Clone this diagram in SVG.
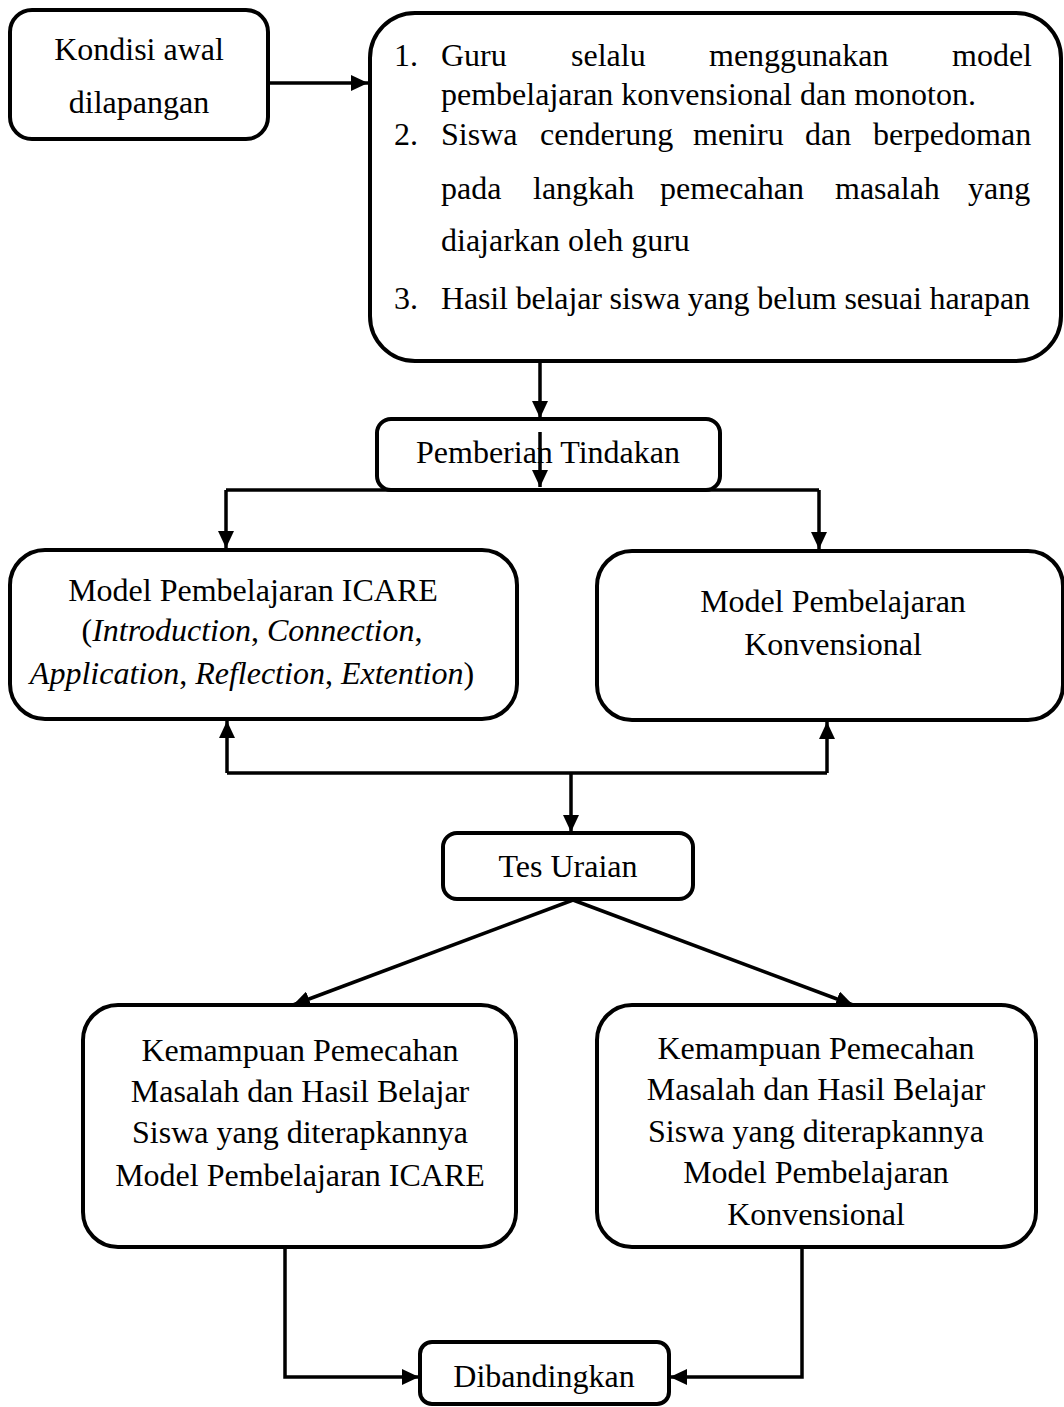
<svg xmlns="http://www.w3.org/2000/svg" width="1064" height="1407" viewBox="0 0 1064 1407">
<style>
.box{fill:#fff;stroke:#000;stroke-width:4}
.ln{fill:none;stroke:#000;stroke-width:3.5}
text{font-family:"Liberation Serif","Times New Roman",serif;font-size:32px;fill:#000}
.c{text-anchor:middle}
.i{font-style:italic}
</style>
<defs>
<marker id="ah" markerUnits="userSpaceOnUse" markerWidth="18" markerHeight="16" refX="17" refY="8" orient="auto" viewBox="0 0 18 16">
<path d="M0,0 L17,8 L0,16 z" fill="#000"/>
</marker>
</defs>
<rect width="1064" height="1407" fill="#fff"/>
<g id="connectors">
<path class="ln" d="M268,83 H368" marker-end="url(#ah)"/>
<path class="ln" d="M540,361 V418" marker-end="url(#ah)"/>
<path class="ln" d="M226,490 H819"/>
<path class="ln" d="M226,490 V548" marker-end="url(#ah)"/>
<path class="ln" d="M819,490 V549" marker-end="url(#ah)"/>
<path class="ln" d="M227,773 H827"/>
<path class="ln" d="M227,773 V721" marker-end="url(#ah)"/>
<path class="ln" d="M827,773 V722" marker-end="url(#ah)"/>
<path class="ln" d="M571,773 V832" marker-end="url(#ah)"/>
<path class="ln" d="M573,900 L293,1005" marker-end="url(#ah)"/>
<path class="ln" d="M573,900 L853,1005" marker-end="url(#ah)"/>
<path class="ln" d="M285,1247 V1377 H419" marker-end="url(#ah)"/>
<path class="ln" d="M802,1247 V1377 H670" marker-end="url(#ah)"/>
</g>
<g id="kondisi">
<rect class="box" x="10" y="10" width="258" height="129" rx="22"/>
<text class="c" x="139" y="60">Kondisi awal</text>
<text class="c" x="139" y="113">dilapangan</text>
</g>
<g id="masalah">
<rect class="box" x="370" y="13" width="691" height="348" rx="45"/>
<text x="394" y="66">1.</text>
<text x="441" y="66">Guru</text>
<text x="571" y="66">selalu</text>
<text x="709" y="66">menggunakan</text>
<text x="952" y="66">model</text>
<text x="441" y="105">pembelajaran konvensional dan monoton.</text>
<text x="394" y="145">2.</text>
<text x="441" y="145">Siswa</text>
<text x="540" y="145">cenderung</text>
<text x="693" y="145">meniru</text>
<text x="805" y="145">dan</text>
<text x="873" y="145">berpedoman</text>
<text x="441" y="199">pada</text>
<text x="533" y="199">langkah</text>
<text x="660" y="199">pemecahan</text>
<text x="835" y="199">masalah</text>
<text x="968" y="199">yang</text>
<text x="441" y="251">diajarkan oleh guru</text>
<text x="394" y="309">3.</text>
<text x="441" y="309" textLength="589" lengthAdjust="spacing">Hasil belajar siswa yang belum sesuai harapan</text>
</g>
<g id="pemberian">
<rect class="box" x="377" y="419" width="343" height="71" rx="14"/>
<text class="c" x="548" y="463">Pemberian Tindakan</text>
</g>
<path class="ln" d="M540,432 V487" marker-end="url(#ah)"/>
<g id="icare">
<rect class="box" x="10" y="550" width="507" height="169" rx="35"/>
<text class="c" x="253" y="601">Model Pembelajaran ICARE</text>
<text class="c" x="252" y="641">(<tspan class="i">Introduction</tspan>, <tspan class="i">Connection</tspan>,</text>
<text class="c" x="252" y="684"><tspan class="i">Application</tspan>, <tspan class="i">Reflection</tspan>, <tspan class="i">Extention</tspan>)</text>
</g>
<g id="konvensional">
<rect class="box" x="597" y="551" width="466" height="169" rx="35"/>
<text class="c" x="833" y="612">Model Pembelajaran</text>
<text class="c" x="833" y="655">Konvensional</text>
</g>
<g id="tes">
<rect class="box" x="443" y="833" width="250" height="66" rx="14"/>
<text class="c" x="568" y="877">Tes Uraian</text>
</g>
<g id="hasil-icare">
<rect class="box" x="83" y="1005" width="433" height="242" rx="35"/>
<text class="c" x="300" y="1061">Kemampuan Pemecahan</text>
<text class="c" x="300" y="1102">Masalah dan Hasil Belajar</text>
<text class="c" x="300" y="1143">Siswa yang diterapkannya</text>
<text class="c" x="300" y="1186">Model Pembelajaran ICARE</text>
</g>
<g id="hasil-konvensional">
<rect class="box" x="597" y="1005" width="439" height="242" rx="35"/>
<text class="c" x="816" y="1059">Kemampuan Pemecahan</text>
<text class="c" x="816" y="1100">Masalah dan Hasil Belajar</text>
<text class="c" x="816" y="1142">Siswa yang diterapkannya</text>
<text class="c" x="816" y="1183">Model Pembelajaran</text>
<text class="c" x="816" y="1225">Konvensional</text>
</g>
<g id="dibandingkan">
<rect class="box" x="420" y="1342" width="249" height="62" rx="12"/>
<text class="c" x="544" y="1387">Dibandingkan</text>
</g>
</svg>
